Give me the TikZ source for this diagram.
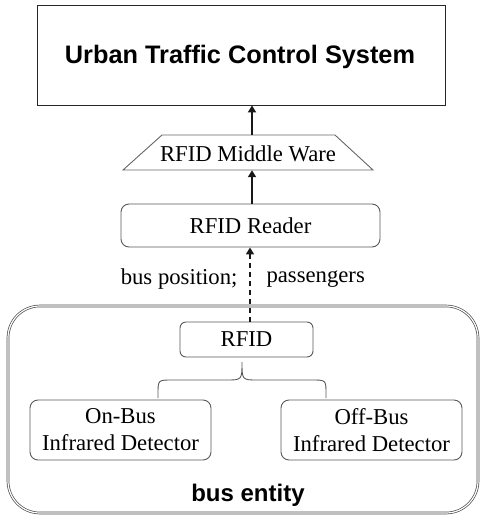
\documentclass[tikz,border=0pt]{standalone}
\usepackage{fontspec}
\setmainfont{Liberation Serif}
\newfontfamily\headfont{Liberation Sans}
\usetikzlibrary{arrows.meta,calc}

\tikzset{
  serif/.style={font=\fontsize{22.7}{27}\selectfont},
  heading/.style={font=\headfont\bfseries\fontsize{25.3}{28}\selectfont},
  roundbox/.style={draw=black!65, line width=0.9pt, rounded corners=8pt,
                   inner sep=0pt, align=center, serif},
  uparrow/.style={line width=1.8pt, draw=black!90,
                  -{Triangle[width=8pt,length=7pt]}},
  linkarrow/.style={uparrow, line width=1.5pt, dash pattern=on 5pt off 4pt},
  brace/.style={draw=black!65, line width=0.9pt},
}

\begin{document}
\begin{tikzpicture}[x=1pt,y=-1pt]
  \useasboundingbox (0,0) rectangle (481,517);

  % management system
  \node[draw=black!85, line width=0.8pt, minimum width=408pt, minimum height=100pt,
        inner sep=0pt] (uts) at (241,55) {};
  \node[heading] (utstext) at (240,57) {Urban Traffic Control System};

  % middleware layer (trapezoid)
  \draw[draw=black!60, line width=0.9pt]
    (123,170) -- (162,135) -- (335,135) -- (373,170) -- cycle;
  \node[minimum width=250pt, minimum height=35pt, inner sep=0pt] (mw) at (248,152.5) {};
  \node[serif] (mwtext) at (248,154) {RFID Middle Ware};

  % reader
  \node[roundbox, minimum width=259pt, minimum height=43pt] (reader) at (250.5,225.5) {RFID Reader};

  % bus entity container
  \node[draw=black!70, double=white, double distance=1.2pt, line width=0.7pt,
        rounded corners=32pt, minimum width=470pt, minimum height=207pt,
        inner sep=0pt] (bus) at (243,409.5) {};
  \node[heading, font=\headfont\bfseries\fontsize{24}{28}\selectfont] (buslabel) at (248,495) {bus entity};

  % tag and detectors
  \node[roundbox, rounded corners=6pt, minimum width=133pt, minimum height=35pt] (tag) at (246.5,339.5) {RFID};
  \node[roundbox, minimum width=181pt, minimum height=60pt] (onbus) at (120.5,430)
        {On-Bus\\Infrared Detector};
  \node[roundbox, minimum width=181pt, minimum height=60pt] (offbus) at (371.5,430)
        {Off-Bus\\Infrared Detector};

  % brace joining both detectors to the tag
  \draw[brace] (158,398) -- (158,394) .. controls (158,380) .. (172,380) -- (226,380)
    .. controls (242,380) .. (242,362)
    .. controls (242,380) .. (258,380) -- (312,380)
    .. controls (326,380) .. (326,394) -- (326,398);

  % data flow
  \draw[uparrow] (mw.north -| 252,0) -- (uts.south -| 252,0);
  \draw[uparrow] (reader.north -| 252,0) -- (mw.south -| 252,0);
  \draw[linkarrow] (tag.north -| 250,0) -- (reader.south -| 250,0);

  \node[serif, anchor=east] (lblpos) at (241,279) {bus position;};
  \node[serif, anchor=west] (lblpass) at (263,279) {passengers};
\end{tikzpicture}
\end{document}
